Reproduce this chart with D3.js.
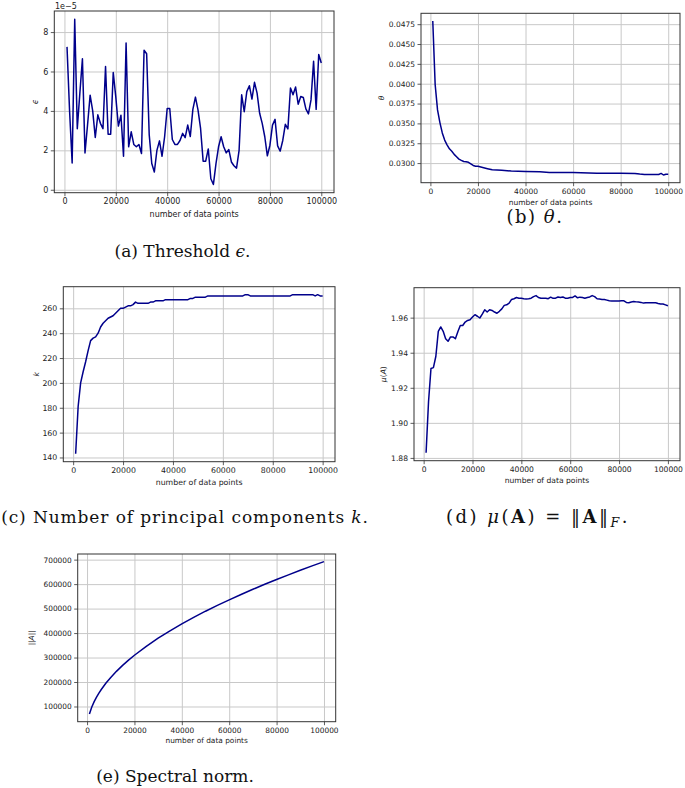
<!DOCTYPE html>
<html><head><meta charset="utf-8">
<script src="https://cdn.jsdelivr.net/npm/d3@7"></script>
<style>body{margin:0;background:#fff} svg{display:block}</style>
</head><body>
<svg id="c" width="685" height="788"></svg>
<script>
// ---------- DATA ----------
const xFull = d3.range(1000, 100001, 1000); // number of data points (sample positions)
const xTicks = [0, 20000, 40000, 60000, 80000, 100000];

// (a) threshold epsilon, in units of 1e-5
const epsilon = [7.25,4.0,1.36,8.65,3.1,4.9,6.65,1.87,3.3,4.8,
  4.0,2.65,3.8,3.37,3.1,6.25,2.82,2.82,5.95,4.7,
  3.23,3.78,1.70,7.45,2.18,2.94,2.3,2.18,2.3,1.84,
  7.08,6.9,2.8,1.33,0.9,2.0,2.48,1.7,2.69,4.12,
  4.12,2.55,2.3,2.3,2.5,2.86,2.64,3.28,2.7,4.08,
  4.7,4.05,3.11,1.45,1.45,2.07,0.56,0.27,1.33,2.18,
  2.69,2.18,1.87,2.04,1.41,1.22,1.10,2.0,4.82,3.96,
  4.98,5.28,4.6,5.45,4.9,3.88,3.37,2.69,1.72,2.26,
  3.28,3.57,2.23,1.96,2.5,3.32,3.09,5.16,4.82,5.21,
  4.34,4.73,4.68,4.1,3.85,4.56,6.52,4.08,6.86,6.43];
const epsTicks = [0, 2, 4, 6, 8];

// (b) theta
const thetaX = [1000,2000,3000,4000,5000,6000,7000,8000,9000,10000,
  11000,12000,13000,14000,15000,16000,17000,18000,19000,20000,
  22000,24000,26000,30000,34000,40000,46000,50000,56000,60000,
  70000,80000,86000,88000,90000,96000,97000,98000,99000,100000];
const theta = [0.0479,0.0399,0.0367,0.0351,0.0338,0.0329,0.0323,0.0318,0.0315,0.0311,
  0.0308,0.0305,0.03034,0.0302,0.03017,0.0301,0.0299,0.0297,0.0296,0.0296,
  0.02945,0.0293,0.02916,0.0291,0.0290,0.02895,0.0289,0.02883,0.0288,0.0288,
  0.02872,0.02872,0.0287,0.02862,0.02857,0.02857,0.0287,0.0285,0.0286,0.0286];
const thetaTicks = [0.0300,0.0325,0.0350,0.0375,0.0400,0.0425,0.0450,0.0475];

// (c) number of principal components k
const kValues = [143,181,200,209,217,226,234,236,237,240,
  245,248,250,252,253,254,256,258,260,260,
  261,262,262,263,265,264,264,264,264,264,
  265,265,266,266,266,266,267,267,267,267,
  267,267,267,267,267,267,268,268,269,269,
  269,269,269,270,270,270,270,270,270,270,
  270,270,270,270,270,270,270,270,271,271,
  270,270,270,270,270,270,270,270,270,270,
  270,270,270,270,270,270,270,271,271,271,
  271,271,271,271,271,271,270,271,270,270];
const kTicks = [140,160,180,200,220,240,260];

// (d) mu(A)
const mu = [1.8829,1.912,1.931,1.9315,1.938,1.9522,1.9547,1.9522,1.948,1.9465,
  1.949,1.949,1.948,1.952,1.9555,1.9555,1.9575,1.9584,1.9588,1.9604,
  1.9617,1.9608,1.9598,1.962,1.9645,1.9632,1.9645,1.9641,1.9632,1.9625,
  1.9636,1.965,1.967,1.9673,1.9683,1.9704,1.9708,1.9715,1.9711,1.9711,
  1.9708,1.9706,1.9708,1.9711,1.972,1.9726,1.9715,1.9711,1.9711,1.9711,
  1.9708,1.9717,1.971,1.9711,1.9718,1.9715,1.9718,1.9711,1.9711,1.9715,
  1.9715,1.9724,1.9713,1.9717,1.9715,1.9711,1.9715,1.9718,1.9726,1.972,
  1.9708,1.9706,1.9704,1.9704,1.97,1.9696,1.9695,1.9695,1.9695,1.9695,
  1.9696,1.9696,1.9687,1.9685,1.9689,1.9692,1.969,1.9689,1.9687,1.9683,
  1.9685,1.9685,1.9685,1.9685,1.9685,1.9681,1.9678,1.9678,1.9673,1.9668];
const muTicks = [1.88,1.90,1.92,1.94,1.96];

// (e) spectral norm ||A||
const normX = [1000,2000,3000,4000,5000,6000,8000,10000,12500,15000,17500,20000,
  25000,30000,35000,40000,45000,50000,55000,60000,65000,70000,75000,80000,85000,90000,95000,100000];
const normA = [69000,97800,119800,138400,154700,169500,195700,218800,244600,268000,289400,309400,
  346000,379000,409300,437600,464100,489300,513100,535900,557800,578900,599200,618900,637900,656400,674400,691900];
const normTicks = [100000,200000,300000,400000,500000,600000,700000];

// ---------- DRAWING ----------
const svg = d3.select("#c");
const LINE = "#00008b", GRID = "#c8c8c8", SPINE = "#333";

function padExtent(v) {
  const [a, b] = d3.extent(v); const p = (b - a) * 0.05; return [a - p, b + p];
}

function panel(cfg) {
  const {l, r, t, b} = cfg.box;
  const x = d3.scaleLinear().domain(padExtent(cfg.xs)).range([l, r]);
  const y = d3.scaleLinear().domain(padExtent(cfg.ys)).range([b, t]);
  const g = svg.append("g");
  g.append("g").attr("transform", `translate(0,${b})`)
    .call(d3.axisBottom(x).tickValues(xTicks).tickSize(-(b - t)).tickFormat(""))
    .call(s => { s.select(".domain").remove(); s.selectAll("line").attr("stroke", GRID).attr("stroke-width", 1); });
  g.append("g").attr("transform", `translate(${l},0)`)
    .call(d3.axisLeft(y).tickValues(cfg.yTicks).tickSize(-(r - l)).tickFormat(""))
    .call(s => { s.select(".domain").remove(); s.selectAll("line").attr("stroke", GRID).attr("stroke-width", 1); });
  g.append("path")
    .datum(cfg.xs.map((xv, i) => [xv, cfg.ys[i]]))
    .attr("fill", "none").attr("stroke", LINE).attr("stroke-width", 1.5)
    .attr("stroke-linejoin", "round")
    .attr("d", d3.line().x(d => x(d[0])).y(d => y(d[1])));
  g.append("rect").attr("x", l).attr("y", t).attr("width", r - l).attr("height", b - t)
    .attr("fill", "none").attr("stroke", SPINE).attr("stroke-width", 1);
  const fs = cfg.fs;
  const ax = g.append("g").attr("transform", `translate(0,${b})`)
    .call(d3.axisBottom(x).tickValues(xTicks).tickSize(3.5).tickPadding(2.5).tickFormat(d3.format("d")));
  const ay = g.append("g").attr("transform", `translate(${l},0)`)
    .call(d3.axisLeft(y).tickValues(cfg.yTicks).tickSize(3.5).tickPadding(2.5).tickFormat(cfg.yFmt));
  [ax, ay].forEach(a => {
    a.select(".domain").remove();
    a.selectAll("line").attr("stroke", SPINE).attr("stroke-width", 0.8);
    a.selectAll("text").attr("font-family", "DejaVu Sans").attr("font-size", fs).attr("fill", "#222");
  });
  g.append("text").attr("x", (l + r) / 2).attr("y", b + cfg.xlDy)
    .attr("text-anchor", "middle").attr("font-family", "DejaVu Sans").attr("font-size", fs).attr("fill", "#222")
    .text("number of data points");
  const yl = g.append("text")
    .attr("transform", `translate(${cfg.ylX},${(t + b) / 2}) rotate(-90)`)
    .attr("text-anchor", "middle").attr("font-family", "DejaVu Sans").attr("font-size", fs).attr("fill", "#222");
  cfg.ylabel.forEach(p => yl.append("tspan").attr("font-style", p.i ? "italic" : "normal").text(p.s));
  return {x, y, g};
}

panel({box: {l: 54.3, r: 334, t: 11, b: 192.7}, xs: xFull, ys: epsilon, yTicks: epsTicks,
  yFmt: d3.format("d"), fs: 8, xlDy: 24, ylX: 38, ylabel: [{s: "ϵ", i: true}]});
svg.append("text").attr("x", 55).attr("y", 9).attr("font-family", "DejaVu Sans").attr("font-size", 8)
  .attr("fill", "#222").text("1e−5");

panel({box: {l: 421, r: 680, t: 13.3, b: 182.7}, xs: thetaX, ys: theta, yTicks: thetaTicks,
  yFmt: d3.format(".4f"), fs: 7.5, xlDy: 22, ylX: 384, ylabel: [{s: "θ", i: true}]});

panel({box: {l: 63.3, r: 335, t: 286.7, b: 461.7}, xs: xFull, ys: kValues, yTicks: kTicks,
  yFmt: d3.format("d"), fs: 7.8, xlDy: 23.5, ylX: 39, ylabel: [{s: "k", i: true}]});

panel({box: {l: 414, r: 680, t: 287.7, b: 460.7}, xs: xFull, ys: mu, yTicks: muTicks,
  yFmt: d3.format(".2f"), fs: 7.6, xlDy: 22.5, ylX: 386, ylabel: [{s: "μ", i: true}, {s: "(", i: false}, {s: "A", i: true}, {s: ")", i: false}]});

panel({box: {l: 77.7, r: 335.7, t: 554, b: 721.7}, xs: normX, ys: normA, yTicks: normTicks,
  yFmt: d3.format("d"), fs: 7.4, xlDy: 21.5, ylX: 34, ylabel: [{s: "||", i: false}, {s: "A", i: true}, {s: "||", i: false}]});

// captions
function caption(cx, by, parts, size, ls) {
  const t = svg.append("text").attr("x", cx).attr("y", by).attr("text-anchor", "middle")
    .attr("font-family", "DejaVu Serif").attr("font-size", size).attr("fill", "#111")
    .attr("letter-spacing", ls);
  parts.forEach(p => {
    const s = t.append("tspan").text(p.s);
    if (p.i) s.attr("font-style", "italic");
    if (p.b) s.attr("font-weight", "bold");
    if (p.sub) s.attr("font-size", size * 0.7).attr("dy", 4);
    if (p.up) s.attr("dy", -4);
  });
}
caption(182.5, 256.5, [{s: "(a) Threshold "}, {s: "ϵ", i: true}, {s: "."}], 17, 0);
caption(535, 223, [{s: "(b) "}, {s: "θ", i: true}, {s: "."}], 18, 1.5);
caption(185, 523, [{s: "(c) Number of principal components "}, {s: "k", i: true}, {s: "."}], 17, 0.9);
caption(538, 523, [{s: "(d) "}, {s: "μ", i: true}, {s: "("}, {s: "A", b: true}, {s: ") = ‖"}, {s: "A", b: true}, {s: "‖"}, {s: "F", i: true, sub: true}, {s: ".", up: true}], 18, 2.5);
caption(175, 781.5, [{s: "(e) Spectral norm."}], 17, 0);
</script>
</body></html>
